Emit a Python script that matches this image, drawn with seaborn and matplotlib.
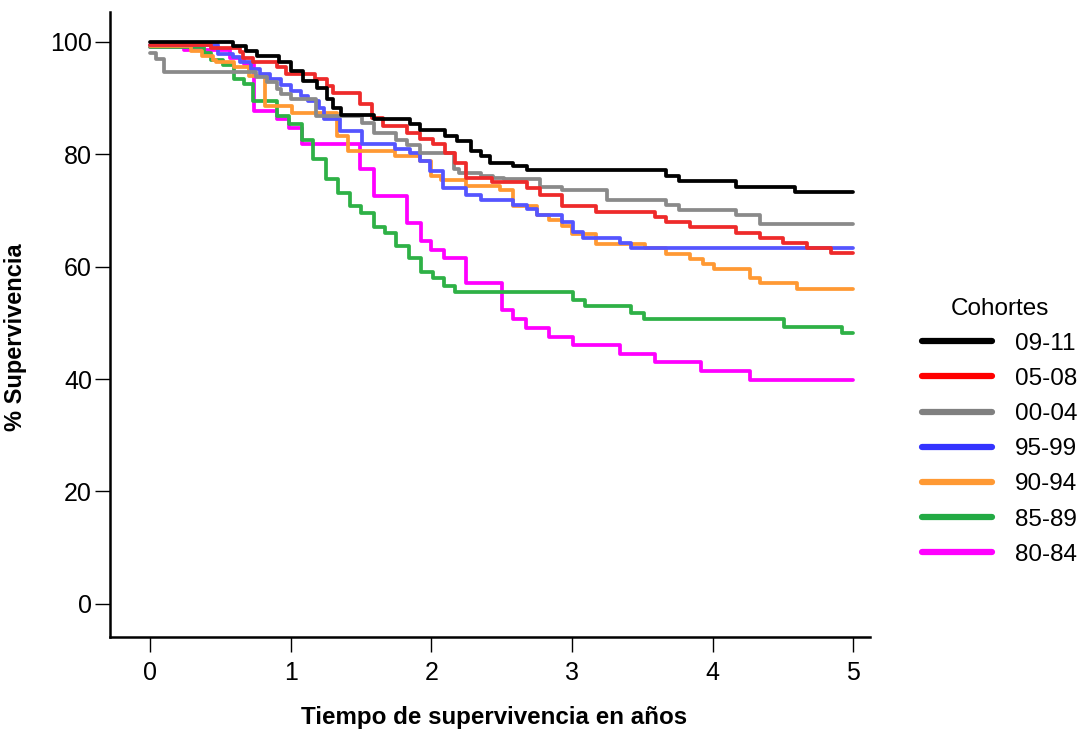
import numpy as np
import pandas as pd
import seaborn as sns
import matplotlib.pyplot as plt

# Kaplan-Meier step curves (time in years, % survival)
cohorts = ['09-11', '05-08', '00-04', '95-99', '90-94', '85-89', '80-84']
colors = ['#000000', '#ee2a2a', '#8a8a8a', '#5555ff', '#ff9933', '#2eb146', '#ff00ff']
legend_colors = ['#000000', '#ff0000', '#808080', '#3333ff', '#ff9933', '#22aa44', '#ff00ff']

t_0911 = [0, 0.59, 0.68, 0.76, 0.92, 1.0, 1.09, 1.19, 1.26, 1.30, 1.36, 1.59, 1.85, 1.92, 2.10, 2.18, 2.28, 2.35, 2.42, 2.58, 2.68, 3.67, 3.76, 4.17, 4.59, 5.0]
s_0911 = [100, 99.3, 98.3, 97.4, 96.4, 94.8, 93.1, 91.7, 89.8, 88.2, 87.0, 86.2, 85.3, 84.3, 83.2, 82.3, 80.6, 79.6, 78.5, 77.9, 77.1, 76.2, 75.2, 74.2, 73.2, 73.2]

t_0508 = [0, 0.43, 0.64, 0.66, 0.73, 0.90, 0.97, 1.17, 1.26, 1.30, 1.49, 1.58, 1.66, 1.83, 1.92, 2.01, 2.10, 2.17, 2.25, 2.43, 2.68, 2.77, 2.93, 3.17, 3.59, 3.67, 3.84, 4.17, 4.34, 4.50, 4.67, 4.84, 5.0]
s_0508 = [99.5, 98.9, 98.1, 97.1, 96.4, 95.5, 94.3, 93.4, 92.2, 90.8, 88.9, 86.5, 85.0, 83.7, 82.7, 81.8, 80.2, 78.5, 75.8, 75.0, 74.0, 72.8, 70.7, 69.8, 68.8, 67.9, 67.0, 66.0, 65.1, 64.2, 63.3, 62.4, 62.4]

t_0004 = [0, 0.04, 0.10, 0.75, 0.83, 0.90, 0.93, 1.0, 1.18, 1.51, 1.59, 1.75, 1.83, 1.92, 2.16, 2.20, 2.35, 2.44, 2.52, 2.77, 2.93, 3.25, 3.67, 3.76, 4.17, 4.34, 5.0]
s_0004 = [98, 97, 94.6, 93.7, 92.8, 91.6, 90.7, 89.8, 86.8, 85.6, 83.8, 82.6, 81.7, 80.2, 77.3, 76.7, 76.2, 75.8, 75.5, 74.2, 73.6, 71.8, 71.0, 70.1, 69.2, 67.6, 67.6]

t_9599 = [0, 0.48, 0.59, 0.64, 0.72, 0.78, 0.85, 0.93, 1.0, 1.07, 1.12, 1.20, 1.24, 1.35, 1.51, 1.74, 1.85, 1.92, 1.99, 2.08, 2.25, 2.35, 2.58, 2.68, 2.75, 2.93, 3.01, 3.08, 3.34, 3.42, 5.0]
s_9599 = [99.5, 97.9, 97.3, 96.4, 95.2, 94.2, 93.4, 92.4, 91.3, 90.4, 89.5, 88.3, 86.2, 84.1, 81.8, 80.9, 80.3, 78.8, 77.0, 74.0, 72.8, 71.9, 71.0, 70.3, 69.2, 68.0, 66.2, 65.1, 64.2, 63.3, 63.3]

t_9094 = [0, 0.29, 0.37, 0.45, 0.47, 0.60, 0.70, 0.82, 1.01, 1.33, 1.41, 1.74, 1.92, 2.0, 2.07, 2.25, 2.49, 2.58, 2.75, 2.84, 2.93, 3.0, 3.17, 3.52, 3.67, 3.84, 3.93, 4.01, 4.27, 4.34, 4.60, 5.0]
s_9094 = [99.3, 98.4, 97.5, 96.8, 96.4, 95.5, 94.0, 88.6, 87.4, 83.2, 80.6, 79.6, 78.8, 76.1, 75.4, 74.4, 73.7, 70.7, 69.2, 68.3, 67.2, 65.8, 64.0, 63.3, 62.3, 61.3, 60.4, 59.6, 57.9, 57.0, 56.1, 56.1]

t_8589 = [0, 0.38, 0.43, 0.52, 0.60, 0.67, 0.73, 0.90, 0.99, 1.08, 1.16, 1.25, 1.34, 1.42, 1.50, 1.59, 1.67, 1.75, 1.84, 1.93, 2.01, 2.09, 2.17, 3.01, 3.09, 3.42, 3.51, 4.51, 4.92, 5.0]
s_8589 = [99, 98, 96.7, 95.8, 93.4, 92.5, 89.5, 86.8, 85.3, 82.6, 79.1, 75.5, 73.1, 70.7, 69.5, 67.1, 66.0, 63.6, 61.5, 59.1, 57.9, 56.5, 55.4, 54.0, 53.0, 51.8, 50.6, 49.3, 48.1, 48.1]

t_8084 = [0, 0.24, 0.57, 0.67, 0.74, 0.90, 0.99, 1.08, 1.49, 1.59, 1.83, 1.93, 2.0, 2.09, 2.25, 2.50, 2.58, 2.67, 2.84, 3.01, 3.34, 3.59, 3.92, 4.27, 5.0]
s_8084 = [99, 98.5, 97.2, 96.0, 87.7, 86.2, 84.7, 81.8, 77.3, 72.5, 67.7, 64.5, 63.0, 61.5, 57.0, 52.2, 50.6, 49.0, 47.5, 46.0, 44.5, 43.0, 41.5, 39.8, 39.8]

times = [t_0911, t_0508, t_0004, t_9599, t_9094, t_8589, t_8084]
survs = [s_0911, s_0508, s_0004, s_9599, s_9094, s_8589, s_8084]

frames = []
for name, t, s in zip(cohorts, times, survs):
    frames.append(pd.DataFrame({'tiempo': t, 'superv': s, 'Cohortes': name}))
df = pd.concat(frames, ignore_index=True)

sns.set_style('ticks')
plt.rcParams['font.family'] = ['Liberation Sans', 'DejaVu Sans']
plt.rcParams['text.color'] = 'black'
plt.rcParams['axes.labelcolor'] = 'black'

fig = plt.figure(figsize=(10.83, 7.34), dpi=100)
ax = fig.add_axes([110 / 1083, 1 - 637 / 734, 760 / 1083, 625 / 734])

# draw in reverse so black ends up on top
for name, col in list(zip(cohorts, colors))[::-1]:
    sns.lineplot(data=df[df['Cohortes'] == name], x='tiempo', y='superv',
                 color=col, linewidth=2.7, drawstyle='steps-post',
                 estimator=None, sort=False, ax=ax, legend=False)

ax.set_xlim(-0.285, 5.12)
ax.set_ylim(-5.9, 105.3)
ax.set_xticks([0, 1, 2, 3, 4, 5])
ax.set_yticks([0, 20, 40, 60, 80, 100])
ax.tick_params(labelsize=18, length=11, width=1.0, color='black', labelcolor='black')
ax.tick_params(axis='x', pad=6)
ax.tick_params(axis='y', pad=2)
for side in ['left', 'bottom']:
    ax.spines[side].set_linewidth(1.8)
    ax.spines[side].set_color('black')
sns.despine(ax=ax)

ax.set_xlabel('Tiempo de supervivencia en años', fontsize=17.4, fontweight='bold', color='black')
ax.set_ylabel('% Supervivencia', fontsize=17, fontweight='bold', color='black')
ax.xaxis.set_label_coords(0.505, -0.11)
ax.yaxis.set_label_coords(-0.109, 0.48)

handles = [plt.Line2D([], [], color=c, linewidth=4.5) for c in legend_colors]
leg = fig.legend(handles, cohorts, title='Cohortes', loc='upper left',
                 bbox_to_anchor=(912 / 1083, 1 - 288 / 734), frameon=False,
                 fontsize=17.5, title_fontsize=17.5, handlelength=2.9,
                 handletextpad=0.95, labelspacing=0.54, borderaxespad=0,
                 labelcolor='black')
leg.get_title().set_color('black')

fig.savefig('out.png', dpi=100)
